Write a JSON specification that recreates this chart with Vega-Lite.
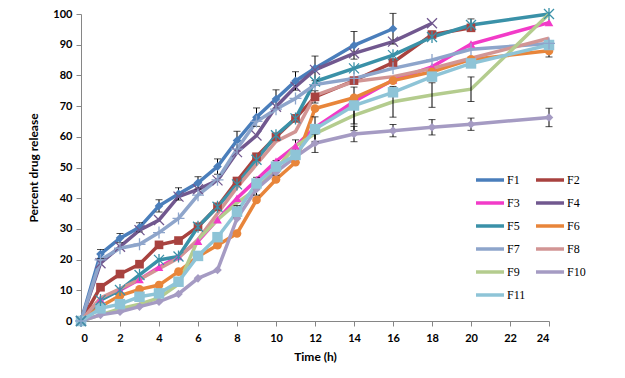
{
"$schema": "https://vega.github.io/schema/vega-lite/v6.json",
"width": 468, "height": 307,
"autosize": {"type": "none"},
"padding": {"left": 81, "top": 14, "right": 76, "bottom": 57},
"background": "white",
"config": {"view": {"stroke": null}, "font": "Lato"},
"datasets": {
"main": [
{"s":"F1","t":0,"v":0},{"s":"F1","t":1,"v":21.8},{"s":"F1","t":2,"v":27},{"s":"F1","t":3,"v":30.5},{"s":"F1","t":4,"v":37.5},{"s":"F1","t":5,"v":41.4},{"s":"F1","t":6,"v":45},{"s":"F1","t":7,"v":50.3},{"s":"F1","t":8,"v":58.8},{"s":"F1","t":9,"v":66.4},{"s":"F1","t":10,"v":72.3},{"s":"F1","t":11,"v":78.2},{"s":"F1","t":12,"v":82.3},{"s":"F1","t":14,"v":89.8},{"s":"F1","t":16,"v":95.2},
{"s":"F2","t":0,"v":0},{"s":"F2","t":1,"v":11},{"s":"F2","t":2,"v":15.3},{"s":"F2","t":3,"v":18.5},{"s":"F2","t":4,"v":24.8},{"s":"F2","t":5,"v":26.2},{"s":"F2","t":6,"v":30.7},{"s":"F2","t":7,"v":37.2},{"s":"F2","t":8,"v":45.6},{"s":"F2","t":9,"v":53.5},{"s":"F2","t":10,"v":60},{"s":"F2","t":11,"v":66},{"s":"F2","t":12,"v":73},{"s":"F2","t":14,"v":78.3},{"s":"F2","t":16,"v":84.2},{"s":"F2","t":18,"v":93.3},{"s":"F2","t":20,"v":95.5},
{"s":"F3","t":0,"v":0},{"s":"F3","t":1,"v":7},{"s":"F3","t":2,"v":10},{"s":"F3","t":3,"v":13.5},{"s":"F3","t":4,"v":17.5},{"s":"F3","t":5,"v":21},{"s":"F3","t":6,"v":26},{"s":"F3","t":7,"v":33},{"s":"F3","t":8,"v":40},{"s":"F3","t":9,"v":46},{"s":"F3","t":10,"v":52},{"s":"F3","t":11,"v":57},{"s":"F3","t":12,"v":63},{"s":"F3","t":14,"v":71.5},{"s":"F3","t":16,"v":78.5},{"s":"F3","t":18,"v":82.8},{"s":"F3","t":20,"v":90.2},{"s":"F3","t":24,"v":97.2},
{"s":"F4","t":0,"v":0},{"s":"F4","t":1,"v":18.8},{"s":"F4","t":2,"v":24.2},{"s":"F4","t":3,"v":29.6},{"s":"F4","t":4,"v":32.9},{"s":"F4","t":5,"v":40.5},{"s":"F4","t":6,"v":42.9},{"s":"F4","t":7,"v":45.8},{"s":"F4","t":8,"v":55},{"s":"F4","t":9,"v":60.4},{"s":"F4","t":10,"v":69.8},{"s":"F4","t":11,"v":76.3},{"s":"F4","t":12,"v":81.8},{"s":"F4","t":14,"v":87.2},{"s":"F4","t":16,"v":91},{"s":"F4","t":18,"v":97},
{"s":"F5","t":0,"v":0},{"s":"F5","t":1,"v":6.8},{"s":"F5","t":2,"v":10.1},{"s":"F5","t":3,"v":15},{"s":"F5","t":4,"v":19.9},{"s":"F5","t":5,"v":21},{"s":"F5","t":6,"v":30.7},{"s":"F5","t":7,"v":37.2},{"s":"F5","t":8,"v":44.5},{"s":"F5","t":9,"v":52.5},{"s":"F5","t":10,"v":60.5},{"s":"F5","t":11,"v":66},{"s":"F5","t":12,"v":78},{"s":"F5","t":14,"v":82.3},{"s":"F5","t":16,"v":86.6},{"s":"F5","t":18,"v":92.5},{"s":"F5","t":20,"v":96.4},{"s":"F5","t":24,"v":100},
{"s":"F6","t":0,"v":0},{"s":"F6","t":1,"v":4.7},{"s":"F6","t":2,"v":8.3},{"s":"F6","t":3,"v":10.3},{"s":"F6","t":4,"v":11.7},{"s":"F6","t":5,"v":16.1},{"s":"F6","t":6,"v":21},{"s":"F6","t":7,"v":24.7},{"s":"F6","t":8,"v":28.5},{"s":"F6","t":9,"v":39.4},{"s":"F6","t":10,"v":46.1},{"s":"F6","t":11,"v":51.7},{"s":"F6","t":12,"v":69.2},{"s":"F6","t":14,"v":72.7},{"s":"F6","t":16,"v":78.3},{"s":"F6","t":18,"v":81.2},{"s":"F6","t":20,"v":85.2},{"s":"F6","t":24,"v":88},
{"s":"F7","t":0,"v":0},{"s":"F7","t":1,"v":19.9},{"s":"F7","t":2,"v":23.7},{"s":"F7","t":3,"v":25},{"s":"F7","t":4,"v":28.8},{"s":"F7","t":5,"v":33.4},{"s":"F7","t":6,"v":41},{"s":"F7","t":7,"v":46},{"s":"F7","t":8,"v":56},{"s":"F7","t":9,"v":65},{"s":"F7","t":10,"v":69},{"s":"F7","t":11,"v":72.5},{"s":"F7","t":12,"v":77},{"s":"F7","t":14,"v":79},{"s":"F7","t":16,"v":82.3},{"s":"F7","t":18,"v":85},{"s":"F7","t":20,"v":88.5},{"s":"F7","t":24,"v":90.4},
{"s":"F8","t":0,"v":0},{"s":"F8","t":1,"v":7.5},{"s":"F8","t":2,"v":10.5},{"s":"F8","t":3,"v":13.5},{"s":"F8","t":4,"v":17},{"s":"F8","t":5,"v":20.5},{"s":"F8","t":6,"v":26.5},{"s":"F8","t":7,"v":35},{"s":"F8","t":8,"v":43.5},{"s":"F8","t":9,"v":51},{"s":"F8","t":10,"v":58.5},{"s":"F8","t":11,"v":61.7},{"s":"F8","t":12,"v":73.5},{"s":"F8","t":14,"v":78},{"s":"F8","t":16,"v":79.6},{"s":"F8","t":18,"v":82.3},{"s":"F8","t":20,"v":85.6},{"s":"F8","t":24,"v":92.1},
{"s":"F9","t":0,"v":0},{"s":"F9","t":1,"v":2},{"s":"F9","t":2,"v":4},{"s":"F9","t":3,"v":5.5},{"s":"F9","t":4,"v":7.5},{"s":"F9","t":5,"v":12},{"s":"F9","t":6,"v":26.5},{"s":"F9","t":7,"v":33},{"s":"F9","t":8,"v":38.5},{"s":"F9","t":9,"v":43},{"s":"F9","t":10,"v":49.5},{"s":"F9","t":11,"v":57},{"s":"F9","t":12,"v":61},{"s":"F9","t":14,"v":67},{"s":"F9","t":16,"v":71.4},{"s":"F9","t":18,"v":73.6},{"s":"F9","t":20,"v":75.5},{"s":"F9","t":24,"v":100},
{"s":"F10","t":0,"v":0},{"s":"F10","t":1,"v":2},{"s":"F10","t":2,"v":3},{"s":"F10","t":3,"v":4.7},{"s":"F10","t":4,"v":6.3},{"s":"F10","t":5,"v":8.8},{"s":"F10","t":6,"v":13.9},{"s":"F10","t":7,"v":16.6},{"s":"F10","t":8,"v":33.4},{"s":"F10","t":9,"v":43},{"s":"F10","t":10,"v":48.5},{"s":"F10","t":11,"v":53.5},{"s":"F10","t":12,"v":57.9},{"s":"F10","t":14,"v":60.9},{"s":"F10","t":16,"v":62},{"s":"F10","t":18,"v":63.1},{"s":"F10","t":20,"v":64.1},{"s":"F10","t":24,"v":66.3},
{"s":"F11","t":0,"v":0},{"s":"F11","t":1,"v":4.1},{"s":"F11","t":2,"v":5.5},{"s":"F11","t":3,"v":7.9},{"s":"F11","t":4,"v":9},{"s":"F11","t":5,"v":12.8},{"s":"F11","t":6,"v":21.2},{"s":"F11","t":7,"v":27.3},{"s":"F11","t":8,"v":35.6},{"s":"F11","t":9,"v":44.8},{"s":"F11","t":10,"v":50.3},{"s":"F11","t":11,"v":54.1},{"s":"F11","t":12,"v":62.5},{"s":"F11","t":14,"v":70.2},{"s":"F11","t":16,"v":74.5},{"s":"F11","t":18,"v":79.6},{"s":"F11","t":20,"v":83.9},{"s":"F11","t":24,"v":89.9}
],
"err": [
{"s":"F1","t":1,"v":21.8,"e":1.5},{"s":"F1","t":2,"v":27,"e":1.5},{"s":"F1","t":3,"v":30.5,"e":1.5},{"s":"F1","t":4,"v":37.5,"e":2},{"s":"F1","t":5,"v":41.4,"e":2},{"s":"F1","t":6,"v":45,"e":2},{"s":"F1","t":7,"v":50.3,"e":2.5},{"s":"F1","t":8,"v":58.8,"e":3},{"s":"F1","t":9,"v":66.4,"e":3},{"s":"F1","t":10,"v":72.3,"e":3},{"s":"F1","t":11,"v":78.2,"e":3},{"s":"F1","t":12,"v":82.3,"e":4},{"s":"F1","t":14,"v":89.8,"e":4.5},{"s":"F1","t":16,"v":95.2,"e":5},
{"s":"F2","t":12,"v":73,"e":2},
{"s":"F5","t":20,"v":96.4,"e":2},
{"s":"F6","t":24,"v":88,"e":2},
{"s":"F9","t":9,"v":43,"e":2},{"s":"F9","t":10,"v":49.5,"e":2},{"s":"F9","t":11,"v":57,"e":2},{"s":"F9","t":12,"v":61,"e":3},{"s":"F9","t":14,"v":67,"e":5},{"s":"F9","t":16,"v":71.4,"e":5},{"s":"F9","t":18,"v":73.6,"e":4},{"s":"F9","t":20,"v":75.5,"e":4},
{"s":"F10","t":12,"v":57.9,"e":3},{"s":"F10","t":14,"v":60.9,"e":2.5},{"s":"F10","t":16,"v":62,"e":2},{"s":"F10","t":18,"v":63.1,"e":2.5},{"s":"F10","t":20,"v":64.1,"e":2},{"s":"F10","t":24,"v":66.3,"e":3},
{"s":"F11","t":8,"v":35.6,"e":2},{"s":"F11","t":9,"v":44.8,"e":2},{"s":"F11","t":10,"v":50.3,"e":2},{"s":"F11","t":11,"v":54.1,"e":2},{"s":"F11","t":12,"v":62.5,"e":4},{"s":"F11","t":14,"v":70.2,"e":6}
]
},
"encoding": {
  "x": {"field": "t", "type": "quantitative", "scale": {"domain": [0, 24], "nice": false},
        "axis": {"title": "Time (h)", "values": [0,2,4,6,8,10,12,14,16,18,20,22,24], "grid": false,
                 "domainColor": "#868686", "tickColor": "#868686", "tickSize": 5,
                 "labelFont": "Lato", "labelFontWeight": "bold", "labelFontSize": 11, "labelColor": "black", "labelPadding": 6,
                 "titleFont": "Lato", "titleFontWeight": "bold", "titleFontSize": 12, "titleColor": "black", "titlePadding": 8}},
  "y": {"field": "v", "type": "quantitative", "scale": {"domain": [0, 100], "nice": false},
        "axis": {"title": "Percent drug release", "values": [0,10,20,30,40,50,60,70,80,90,100], "grid": false,
                 "domainColor": "#868686", "tickColor": "#868686", "tickSize": 5,
                 "labelFont": "Lato", "labelFontWeight": "bold", "labelFontSize": 11, "labelColor": "black", "labelPadding": 4,
                 "titleFont": "Lato", "titleFontWeight": "bold", "titleFontSize": 12, "titleColor": "black", "titlePadding": 12}}
},
"resolve": {"scale": {"shape": "independent"}},
"layer": [
  {"data": {"name": "main"},
   "mark": {"type": "line", "strokeWidth": 3.5},
   "encoding": {
     "color": {"field": "s", "type": "nominal",
       "scale": {"domain": ["F1","F2","F3","F4","F5","F6","F7","F8","F9","F10","F11"],
                 "range": ["#4A7EBB","#A8423F","#F23BC8","#71588F","#3A91A8","#E8853A","#8EA5CB","#D29594","#B4CC8E","#A59BC3","#8EC4D7"]},
       "legend": {"orient": "none", "legendX": 393, "legendY": 150, "columns": 2, "direction": "horizontal", "title": null,
                  "symbolType": "stroke", "symbolSize": 784, "symbolStrokeWidth": 3.5,
                  "labelFont": "Liberation Serif", "labelFontSize": 12, "labelColor": "black", "labelOffset": 1,
                  "rowPadding": -7.3, "columnPadding": 3}}
   }},
  {"data": {"name": "err"},
   "mark": {"type": "errorbar", "ticks": {"size": 7, "color": "black"}, "rule": {"color": "black", "strokeWidth": 1}},
   "encoding": {"y": {"field": "v", "type": "quantitative"}, "yError": {"field": "e"}}},
  {"data": {"name": "main"},
   "transform": [{"filter": {"field": "s", "oneOf": ["F1","F2","F3","F6","F10"]}}],
   "mark": {"type": "point", "filled": true, "size": 75, "opacity": 1},
   "encoding": {
     "color": {"field": "s", "type": "nominal", "legend": null},
     "shape": {"field": "s", "type": "nominal", "legend": null,
       "scale": {"domain": ["F1","F2","F3","F6","F10"], "range": ["diamond","square","triangle-up","circle","diamond"]}}
   }},
  {"data": {"name": "main"},
   "transform": [{"filter": {"field": "s", "equal": "F11"}}],
   "mark": {"type": "point", "filled": true, "size": 110, "opacity": 1, "shape": "square"},
   "encoding": {"color": {"field": "s", "type": "nominal", "legend": null}}},
  {"data": {"name": "main"},
   "transform": [{"filter": {"field": "s", "oneOf": ["F4","F5","F7"]}}],
   "mark": {"type": "point", "filled": false, "size": 100, "strokeWidth": 1.3, "opacity": 1},
   "encoding": {
     "color": {"field": "s", "type": "nominal", "legend": null},
     "shape": {"field": "s", "type": "nominal", "legend": null,
       "scale": {"domain": ["F4","F5","F7"], "range": ["M-1,-1L1,1M-1,1L1,-1", "M-1,-1L1,1M-1,1L1,-1M0,-1.2L0,1.2", "M-1.2,0L1.2,0M0,-1.2L0,1.2"]}}
   }}
]
}
